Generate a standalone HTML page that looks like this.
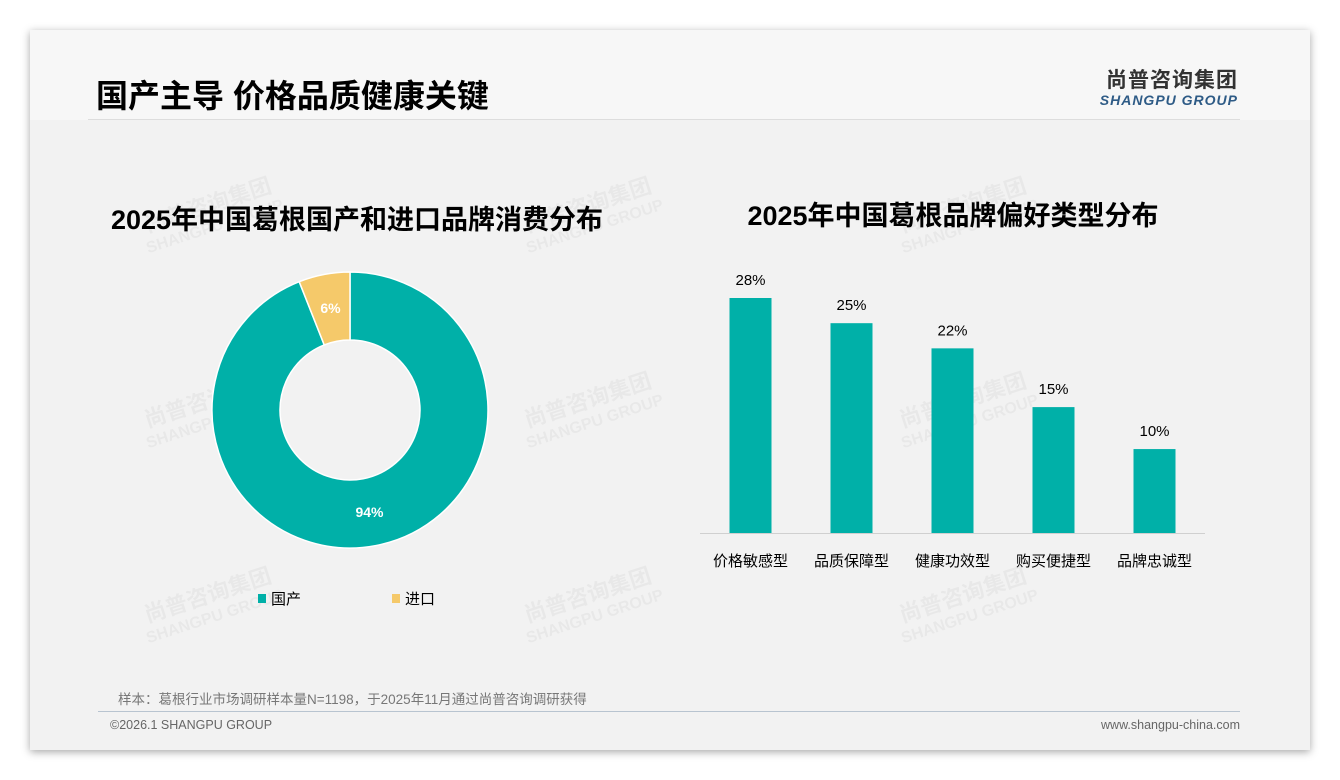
<!DOCTYPE html>
<html><head><meta charset="utf-8"><style>
body{margin:0;width:1340px;height:780px;background:#fff;font-family:"Liberation Sans","Noto Sans CJK SC",sans-serif;position:relative;overflow:hidden}
.card{position:absolute;left:30px;top:30px;width:1280px;height:720px;background:#f2f2f2;box-shadow:0 2px 8px rgba(0,0,0,.35)}
.hdr{position:absolute;left:0;top:0;width:1280px;height:90px;background:#f7f7f7}
.abs{position:absolute}
.wm{position:absolute;color:rgba(0,0,0,.04);font-weight:bold;transform:rotate(-18deg);font-size:22px;line-height:20px;text-align:center}
</style></head><body>
<div class="card">
<div class="hdr"></div>
<div class="abs" style="left:66px;top:46px;font-size:32px;font-weight:bold;color:#000;line-height:40px">国产主导 价格品质健康关键</div>
<div class="abs" style="left:1046px;top:34px;text-align:right;width:162px">
<div style="font-size:21px;font-weight:bold;color:#333;letter-spacing:1px">尚普咨询集团</div>
<div style="font-size:14px;font-weight:bold;font-style:italic;color:#2e5b86;letter-spacing:1px;margin-top:-2px">SHANGPU GROUP</div></div>
<div class="abs" style="left:58px;top:89px;width:1152px;height:1px;background:#ddd"></div>
<div class="wm" style="left:110px;top:165px">尚普咨询集团<br><span style="font-size:16px">SHANGPU GROUP</span></div>
<div class="wm" style="left:490px;top:165px">尚普咨询集团<br><span style="font-size:16px">SHANGPU GROUP</span></div>
<div class="wm" style="left:865px;top:165px">尚普咨询集团<br><span style="font-size:16px">SHANGPU GROUP</span></div>
<div class="wm" style="left:110px;top:360px">尚普咨询集团<br><span style="font-size:16px">SHANGPU GROUP</span></div>
<div class="wm" style="left:490px;top:360px">尚普咨询集团<br><span style="font-size:16px">SHANGPU GROUP</span></div>
<div class="wm" style="left:865px;top:360px">尚普咨询集团<br><span style="font-size:16px">SHANGPU GROUP</span></div>
<div class="wm" style="left:110px;top:555px">尚普咨询集团<br><span style="font-size:16px">SHANGPU GROUP</span></div>
<div class="wm" style="left:490px;top:555px">尚普咨询集团<br><span style="font-size:16px">SHANGPU GROUP</span></div>
<div class="wm" style="left:865px;top:555px">尚普咨询集团<br><span style="font-size:16px">SHANGPU GROUP</span></div>
<div class="abs" style="left:88px;top:658px;font-size:13.5px;color:#777">样本：葛根行业市场调研样本量N=1198，于2025年11月通过尚普咨询调研获得</div>
<div class="abs" style="left:68px;top:681px;width:1142px;height:1px;background:#b8c4d0"></div>
<div class="abs" style="left:80px;top:688px;font-size:12.5px;color:#666">©2026.1 SHANGPU GROUP</div>
<div class="abs" style="right:70px;top:688px;font-size:12.5px;color:#666">www.shangpu-china.com</div>
</div>
<svg class="abs" style="left:0;top:0" width="1340" height="780">
<text x="357" y="229" text-anchor="middle" font-size="27" font-weight="bold" fill="#000">2025年中国葛根国产和进口品牌消费分布</text>
<text x="953" y="225" text-anchor="middle" font-size="27" font-weight="bold" fill="#000">2025年中国葛根品牌偏好类型分布</text>
<g id="donut"></g><g id="bars"></g>
<g>
<rect x="258" y="594" width="8" height="9" fill="#00b0a8"/>
<text x="271" y="604" font-size="15" fill="#000">国产</text>
<rect x="392" y="594" width="8" height="9" fill="#f5c96a"/>
<text x="405" y="604" font-size="15" fill="#000">进口</text>
</g>
</svg>
<script>
const pieLabels=["国产","进口"];
const pieValues=[94,6];
const pieColors=["#00b0a8","#f5c96a"];
const barCats=["价格敏感型","品质保障型","健康功效型","购买便捷型","品牌忠诚型"];
const barValues=[28,25,22,15,10];
const NS="http://www.w3.org/2000/svg";
function mk(t,a){const e=document.createElementNS(NS,t);for(const k in a)e.setAttribute(k,a[k]);return e;}
const cx=350,cy=410,R=138,r=70,dg=document.getElementById('donut');
let tot=pieValues.reduce((a,b)=>a+b,0),ang=0;
pieValues.forEach((v,i)=>{
 const a0=ang,a1=ang+v/tot*2*Math.PI;ang=a1;
 const p=(a,rr)=>[cx+rr*Math.sin(a),cy-rr*Math.cos(a)];
 const L=(a1-a0)>Math.PI?1:0;
 const [x0,y0]=p(a0,R),[x1,y1]=p(a1,R),[x2,y2]=p(a1,r),[x3,y3]=p(a0,r);
 const path=mk('path',{d:`M${x0} ${y0}A${R} ${R} 0 ${L} 1 ${x1} ${y1}L${x2} ${y2}A${r} ${r} 0 ${L} 0 ${x3} ${y3}Z`,fill:pieColors[i],stroke:'#fff','stroke-width':1.5});
 
 
 dg.appendChild(path);
 const m=(a0+a1)/2,[lx,ly]=p(m,(R+r)/2);
 const t=mk('text',{x:lx,y:ly+5,'text-anchor':'middle','font-size':14,'font-weight':'bold',fill:'#fff'});
 t.textContent=v+'%';
 
 
 dg.appendChild(t);
});
const bg=document.getElementById('bars'),base=533,scale=235/28,x0=700,step=101,bw=42;
const ax=mk('line',{x1:700,x2:1205,y1:base+0.5,y2:base+0.5,stroke:'#d0d0d0'});


bg.appendChild(ax);
barCats.forEach((c,i)=>{
 const xc=x0+step*(i+0.5),h=barValues[i]*scale;
 const b=mk('rect',{x:xc-bw/2,y:base-h,width:bw,height:h,fill:'#00b0a8'});
 
 
 bg.appendChild(b);
 const t=mk('text',{x:xc,y:base-h-13,'text-anchor':'middle','font-size':15,fill:'#000'});
 t.textContent=barValues[i]+'%';
 
 
 bg.appendChild(t);
 const l=mk('text',{x:xc,y:566,'text-anchor':'middle','font-size':15,fill:'#000'});
 l.textContent=c;
 
 
 bg.appendChild(l);
});
</script>
</body></html>
